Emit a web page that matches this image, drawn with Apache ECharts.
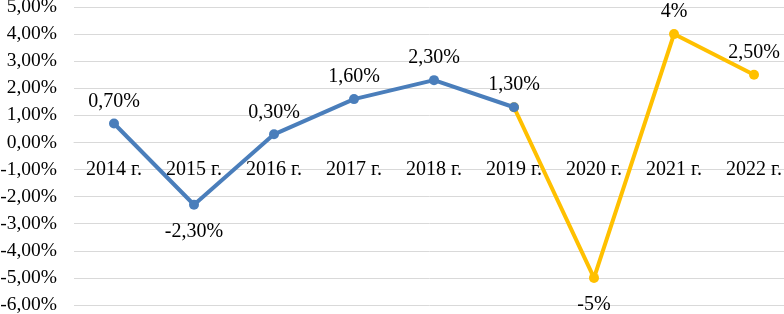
<!DOCTYPE html>
<html>
<head>
<meta charset="utf-8">
<script src="https://cdn.jsdelivr.net/npm/echarts@6/dist/echarts.min.js"></script>
<style>
  html, body { margin: 0; padding: 0; background: #fff; }
  #chart { width: 784px; height: 314px; }
</style>
</head>
<body>
<div id="chart"></div>
<script>
// годы
const years = ['2014 г.', '2015 г.', '2016 г.', '2017 г.', '2018 г.', '2019 г.', '2020 г.', '2021 г.', '2022 г.']
// синяя линия 2014-2019, жёлтая 2019-2022
const blueValues = [0.7, -2.3, 0.3, 1.6, 2.3, 1.3, null, null, null]
const yellowValues = [null, null, null, null, null, 1.3, -5, 4, 2.5]
const blueLabels = ['0,70%', '-2,30%', '0,30%', '1,60%', '2,30%', '1,30%', '', '', '']
const yellowLabels = ['', '', '', '', '', '', '-5%', '4%', '2,50%']

const FONT = '"Liberation Serif", "Times New Roman", serif'

const Y_MIN = -6
const Y_MAX = 5
const GRID_TOP = 7
const GRID_H = 298
// ось категорий проходит через ноль
const zeroShift = GRID_H * (0 - Y_MIN) / (Y_MAX - Y_MIN)

const toPoints = (values, labels) => values.map((v, i) => {
  if (v === null) return null
  return {
    value: v,
    label: {
      show: labels[i] !== '',
      formatter: labels[i],
      position: v < 0 ? 'bottom' : 'top',
      distance: v < 0 ? 12 : 7
    }
  }
})

const chart = echarts.init(document.getElementById('chart'))

const option = {
  backgroundColor: '#ffffff',
  animation: false,
  grid: {
    left: 74,
    top: GRID_TOP,
    width: 720,
    height: GRID_H,
    containLabel: false,
    outerBoundsMode: 'none'
  },
  xAxis: {
    type: 'category',
    data: years,
    boundaryGap: true,
    offset: -zeroShift,
    axisLine: { show: true, onZero: false, lineStyle: { color: '#d9d9d9', width: 1 } },
    axisTick: { show: false },
    axisLabel: {
      color: '#000',
      fontFamily: FONT,
      fontSize: 20,
      margin: 17,
      interval: 0
    },
    splitLine: { show: false }
  },
  yAxis: {
    type: 'value',
    min: Y_MIN,
    max: Y_MAX,
    interval: 1,
    axisLine: { show: false },
    axisTick: { show: false },
    axisLabel: {
      color: '#000',
      fontFamily: FONT,
      fontSize: 19.5,
      margin: 17,
      formatter: (v) => v.toFixed(2).replace('.', ',') + '%'
    },
    splitLine: { lineStyle: { color: '#d9d9d9', width: 1 } }
  },
  series: [
    {
      name: 'yellow',
      type: 'line',
      data: toPoints(yellowValues, yellowLabels),
      connectNulls: false,
      symbol: 'circle',
      symbolSize: 10,
      lineStyle: { color: '#ffc000', width: 4 },
      itemStyle: { color: '#ffc000' },
      label: { color: '#000', fontFamily: FONT, fontSize: 20 },
      z: 2
    },
    {
      name: 'blue',
      type: 'line',
      data: toPoints(blueValues, blueLabels),
      connectNulls: false,
      symbol: 'circle',
      symbolSize: 10,
      lineStyle: { color: '#4a7ebb', width: 4 },
      itemStyle: { color: '#4a7ebb' },
      label: { color: '#000', fontFamily: FONT, fontSize: 20 },
      z: 3
    }
  ]
}

chart.setOption(option)
</script>
</body>
</html>
